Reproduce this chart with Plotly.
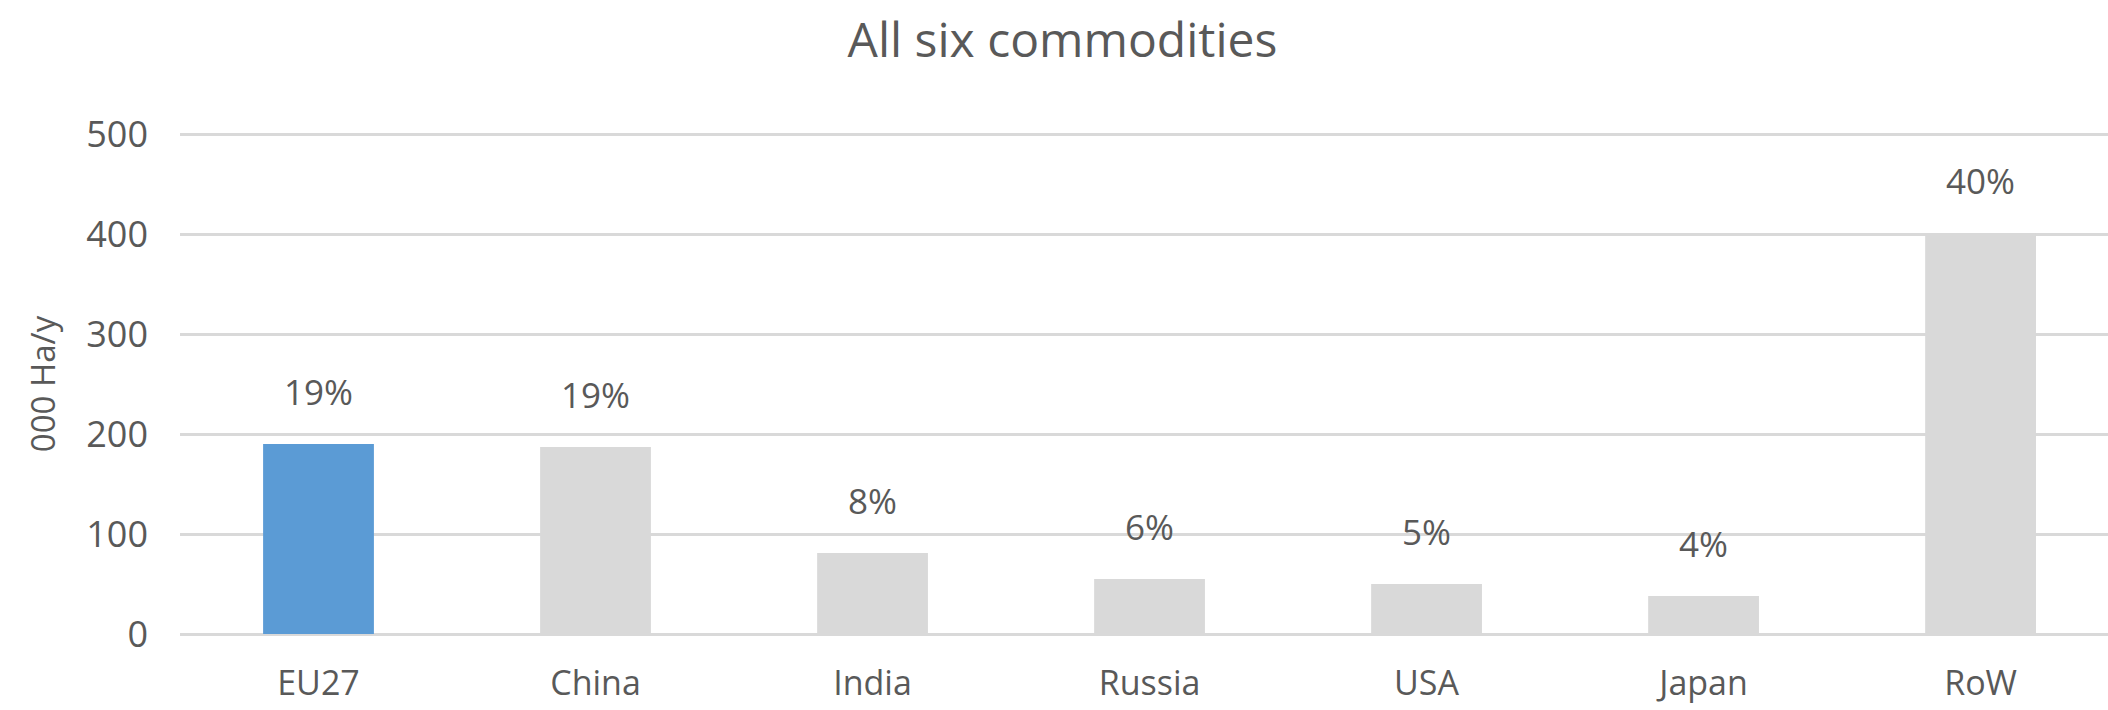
import plotly.graph_objects as go

categories = ["EU27", "China", "India", "Russia", "USA", "Japan", "RoW"]
values = [190, 187, 81, 55, 50, 38, 401]
share_labels = ["19%", "19%", "8%", "6%", "5%", "4%", "40%"]
bar_colors = ["#5B9BD5", "#D9D9D9", "#D9D9D9", "#D9D9D9", "#D9D9D9", "#D9D9D9", "#D9D9D9"]
y_ticks = [0, 100, 200, 300, 400, 500]

FONT = "Open Sans"
TXT = "#595959"

fig = go.Figure()
fig.add_trace(go.Bar(
    x=list(range(len(categories))),
    y=values,
    marker=dict(color=bar_colors, line=dict(width=0)),
    hoverinfo="skip",
))

for i, (v, lab) in enumerate(zip(values, share_labels)):
    fig.add_annotation(
        x=i, y=v, text=lab, showarrow=False, yshift=53,
        xref="x", yref="y",
        font=dict(family=FONT, size=35, color=TXT),
    )

fig.update_layout(
    width=2108, height=710,
    margin=dict(l=180, r=0, t=131, b=73, autoexpand=False),
    paper_bgcolor="white", plot_bgcolor="white",
    showlegend=False,
    bargap=0.6,
    title=dict(
        text="All six commodities",
        x=0.504, xanchor="center", y=1 - 40 / 710, yanchor="middle",
        font=dict(family=FONT, size=48, color=TXT),
    ),
    xaxis=dict(
        range=[-0.5, 6.46],
        tickmode="array",
        tickvals=list(range(len(categories))),
        ticktext=categories,
        showgrid=False,
        zeroline=False,
        showline=False,
        ticks="",
        automargin=False,
        ticklabelstandoff=23,
        tickfont=dict(family=FONT, size=34, color=TXT),
    ),
    yaxis=dict(
        range=[-3, 503],
        tickmode="array",
        tickvals=y_ticks,
        showgrid=True,
        gridcolor="#D9D9D9",
        gridwidth=2.5,
        zeroline=False,
        showline=False,
        ticks="",
        automargin=False,
        ticklabelstandoff=31,
        tickfont=dict(family=FONT, size=36, color=TXT),
        title=dict(text="000 Ha/y", standoff=20,
                   font=dict(family=FONT, size=33, color=TXT)),
    ),
)

fig.write_html("out.html")
